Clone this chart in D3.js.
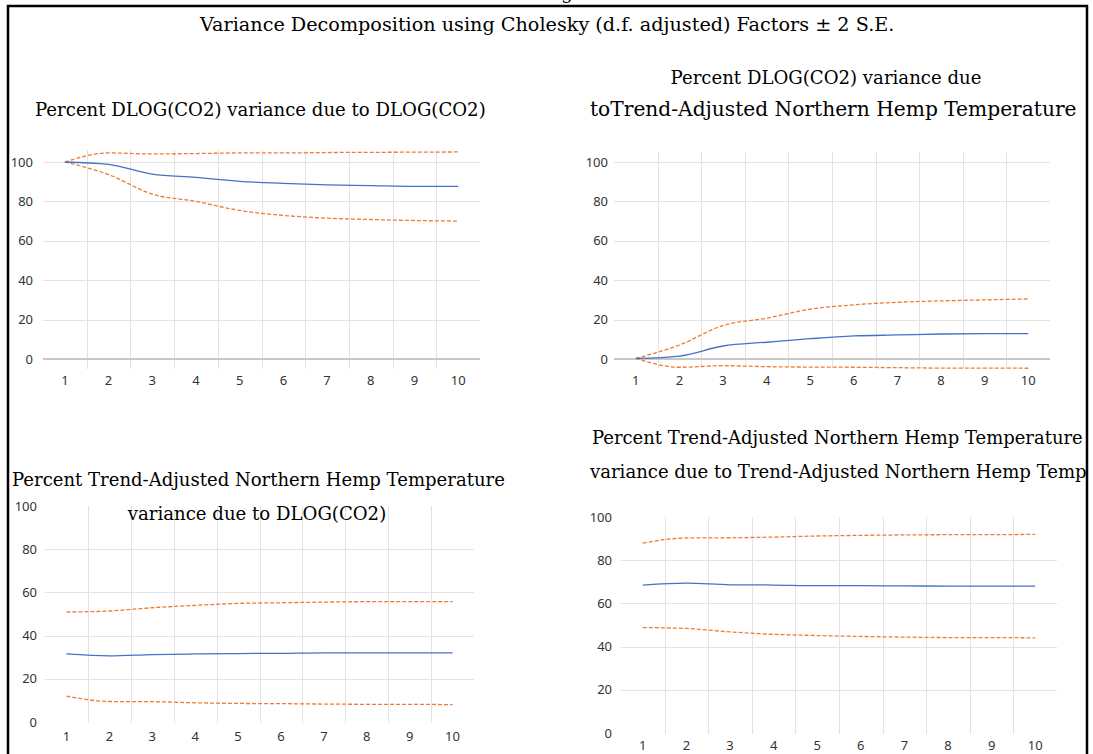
<!DOCTYPE html>
<html>
<head>
<meta charset="utf-8">
<script src="https://d3js.org/d3.v7.min.js"></script>
<style>
  body { margin: 0; background: #fff; }
</style>
</head>
<body>
<div id="chart"></div>
<script>
// ===== DATA =====
var steps = [1, 2, 3, 4, 5, 6, 7, 8, 9, 10];
var yTicks = [0, 20, 40, 60, 80, 100];

// Percent DLOG(CO2) variance due to DLOG(CO2)
var co2co2Mid = [100, 98.8, 93.8, 92.2, 90.2, 89.2, 88.4, 88.0, 87.6, 87.6];
var co2co2Up  = [100, 104.6, 104.1, 104.3, 104.6, 104.6, 104.8, 104.9, 105.0, 105.1];
var co2co2Lo  = [100, 93.6, 83.7, 80.0, 75.4, 72.9, 71.5, 70.8, 70.3, 70.0];

// Percent DLOG(CO2) variance due to temperature
var co2tmpMid = [0.3, 1.5, 6.6, 8.5, 10.3, 11.7, 12.2, 12.7, 12.9, 12.9];
var co2tmpUp  = [0.3, 7.1, 17.0, 20.7, 25.3, 27.5, 28.8, 29.5, 30.0, 30.5];
var co2tmpLo  = [0.3, -4.2, -3.4, -3.9, -4.1, -4.2, -4.4, -4.6, -4.6, -4.7];

// Percent temperature variance due to DLOG(CO2)
var tmpco2Mid = [31.5, 30.6, 31.2, 31.5, 31.7, 31.8, 32.0, 32.0, 32.0, 32.0];
var tmpco2Up  = [50.9, 51.4, 52.9, 54.0, 54.9, 55.2, 55.5, 55.7, 55.7, 55.7];
var tmpco2Lo  = [12.0, 9.5, 9.4, 8.9, 8.6, 8.5, 8.3, 8.2, 8.2, 8.0];

// Percent temperature variance due to temperature
var tmptmpMid = [68.5, 69.4, 68.6, 68.5, 68.2, 68.2, 68.1, 68.0, 68.0, 68.0];
var tmptmpUp  = [87.9, 90.3, 90.4, 90.7, 91.2, 91.5, 91.7, 91.8, 91.8, 92.0];
var tmptmpLo  = [48.8, 48.4, 46.8, 45.7, 45.1, 44.7, 44.4, 44.2, 44.2, 44.0];

var mainTitle = "Variance Decomposition using Cholesky (d.f. adjusted) Factors \u00b1 2 S.E.";

// ===== LAYOUT =====
var w = 1093;
var h = 754;
var serif = "'DejaVu Serif', serif";
var sans = "'Noto Sans', 'Liberation Sans', sans-serif";
var blue = "#4472c4";
var orange = "#ed7d31";

// len = width the line takes in the original; mid = centred line at the shared size
var panels = [
  { left: 43, right: 480, y0: 359, y100: 162, gTop: 150, gBottom: 369, labelX: 33, xLabelY: 385,
    axisLine: true, topGrid: true, mid: co2co2Mid, up: co2co2Up, lo: co2co2Lo,
    titles: [{ text: "Percent DLOG(CO2) variance due to DLOG(CO2)", x: 35, y: 116, len: 451 }] },
  { left: 614, right: 1050, y0: 359, y100: 162, gTop: 152, gBottom: 368, labelX: 608, xLabelY: 385,
    axisLine: true, topGrid: true, mid: co2tmpMid, up: co2tmpUp, lo: co2tmpLo,
    titles: [{ text: "Percent DLOG(CO2) variance due", x: 826, y: 84, mid: true },
             { text: "toTrend-Adjusted Northern Hemp Temperature", x: 590, y: 116, len: 487 }] },
  { left: 45, right: 474, y0: 722, y100: 506, gTop: 506, gBottom: 723, labelX: 37, xLabelY: 741,
    axisLine: false, topGrid: false, mid: tmpco2Mid, up: tmpco2Up, lo: tmpco2Lo,
    titles: [{ text: "Percent Trend-Adjusted Northern Hemp Temperature", x: 12, y: 486, len: 493 },
             { text: "variance due to DLOG(CO2)", x: 257, y: 520, mid: true }] },
  { left: 621, right: 1057, y0: 733, y100: 517, gTop: 517, gBottom: 734, labelX: 612, xLabelY: 750,
    axisLine: false, topGrid: false, mid: tmptmpMid, up: tmptmpUp, lo: tmptmpLo,
    titles: [{ text: "Percent Trend-Adjusted Northern Hemp Temperature", x: 592, y: 444, len: 491 },
             { text: "variance due to Trend-Adjusted Northern Hemp Temp", x: 590, y: 478, len: 497, rest: "erature" }] }
];

var svg = d3.select("#chart")
            .append("svg")
            .attr("width", w)
            .attr("height", h);

// Fits a serif text to the width it takes in the original by picking its size
function fitSize(str, target)
{
  var probe = svg.append("text")
                 .attr("font-family", serif)
                 .attr("font-size", "18px")
                 .text(str);
  var natural = probe.node().getComputedTextLength();
  probe.remove();
  return 18 * target / natural;
}

// shared size for the centred subtitle lines
var subSize = fitSize(panels[0].titles[0].text, panels[0].titles[0].len);

// clip so text runs under the right border like the original
svg.append("clipPath")
   .attr("id", "frame")
   .append("rect")
   .attr("x", 8)
   .attr("y", 6)
   .attr("width", 1078)
   .attr("height", 760);

// descender of a line cut off above the frame
svg.append("text")
   .attr("x", 561)
   .attr("y", -1)
   .attr("font-family", serif)
   .attr("font-size", "19px")
   .attr("fill", "#000")
   .text("g");

var root = svg.append("g").attr("clip-path", "url(#frame)");

root.append("text")
    .attr("x", 200)
    .attr("y", 31)
    .attr("font-family", serif)
    .attr("font-size", fitSize(mainTitle, 695) + "px")
    .attr("fill", "#000")
    .text(mainTitle);

panels.forEach(function(p) {
  var g = root.append("g");

  var x = d3.scaleBand()
            .domain(steps)
            .range([p.left, p.right]);

  var y = d3.scaleLinear()
            .domain([0, 100])
            .range([p.y0, p.y100]);

  var cx = function(d, i) { return x(steps[i]) + x.bandwidth() / 2; };

  // vertical gridlines between categories
  g.selectAll("line.vgrid")
   .data(steps.slice(1))
   .enter()
   .append("line")
   .attr("class", "vgrid")
   .attr("x1", function(d) { return Math.round(x(d)) + 0.5; })
   .attr("x2", function(d) { return Math.round(x(d)) + 0.5; })
   .attr("y1", p.gTop)
   .attr("y2", p.gBottom)
   .attr("stroke", "#e3e3e3")
   .attr("stroke-width", 1);

  // horizontal gridlines
  var hTicks = yTicks.filter(function(t) {
    if (t == 0) return false;
    if (t == 100 && !p.topGrid) return false;
    return true;
  });
  g.selectAll("line.hgrid")
   .data(hTicks)
   .enter()
   .append("line")
   .attr("class", "hgrid")
   .attr("x1", p.left)
   .attr("x2", p.right)
   .attr("y1", function(d) { return Math.round(y(d)) + 0.5; })
   .attr("y2", function(d) { return Math.round(y(d)) + 0.5; })
   .attr("stroke", "#e3e3e3")
   .attr("stroke-width", 1);

  if (p.axisLine) {
    g.append("line")
     .attr("x1", p.left)
     .attr("x2", p.right)
     .attr("y1", y(0))
     .attr("y2", y(0))
     .attr("stroke", "#c8c8c8")
     .attr("stroke-width", 2);
  }

  // y tick labels
  g.selectAll("text.ylab")
   .data(yTicks)
   .enter()
   .append("text")
   .attr("class", "ylab")
   .attr("x", p.labelX)
   .attr("y", function(d) { return y(d); })
   .attr("dy", "0.35em")
   .attr("text-anchor", "end")
   .attr("font-family", sans)
   .attr("font-size", "13px")
   .attr("fill", "#333")
   .text(function(d) { return d; });

  // x tick labels
  g.selectAll("text.xlab")
   .data(steps)
   .enter()
   .append("text")
   .attr("class", "xlab")
   .attr("x", function(d) { return x(d) + x.bandwidth() / 2; })
   .attr("y", p.xLabelY)
   .attr("text-anchor", "middle")
   .attr("font-family", sans)
   .attr("font-size", "13px")
   .attr("fill", "#333")
   .text(function(d) { return d; });

  var line = d3.line()
               .x(cx)
               .y(function(d) { return y(d); })
               .curve(d3.curveMonotoneX);

  g.append("path")
   .attr("d", line(p.up))
   .attr("fill", "none")
   .attr("stroke", orange)
   .attr("stroke-width", 1.3)
   .attr("stroke-dasharray", "4,2");

  g.append("path")
   .attr("d", line(p.lo))
   .attr("fill", "none")
   .attr("stroke", orange)
   .attr("stroke-width", 1.3)
   .attr("stroke-dasharray", "4,2");

  g.append("path")
   .attr("d", line(p.mid))
   .attr("fill", "none")
   .attr("stroke", blue)
   .attr("stroke-width", 1.3);

  // panel titles
  p.titles.forEach(function(t) {
    g.append("text")
     .attr("x", t.x)
     .attr("y", t.y)
     .attr("text-anchor", t.mid ? "middle" : "start")
     .attr("font-family", serif)
     .attr("font-size", (t.mid ? subSize : fitSize(t.text, t.len)) + "px")
     .attr("fill", "#000")
     .text(t.text + (t.rest || ""));
  });
});

// outer frame (bottom edge is off the picture)
svg.append("path")
   .attr("d", "M8,760 L8,6 L1087,6 L1087,760")
   .attr("fill", "none")
   .attr("stroke", "#000")
   .attr("stroke-width", 2.5);
</script>
</body>
</html>
